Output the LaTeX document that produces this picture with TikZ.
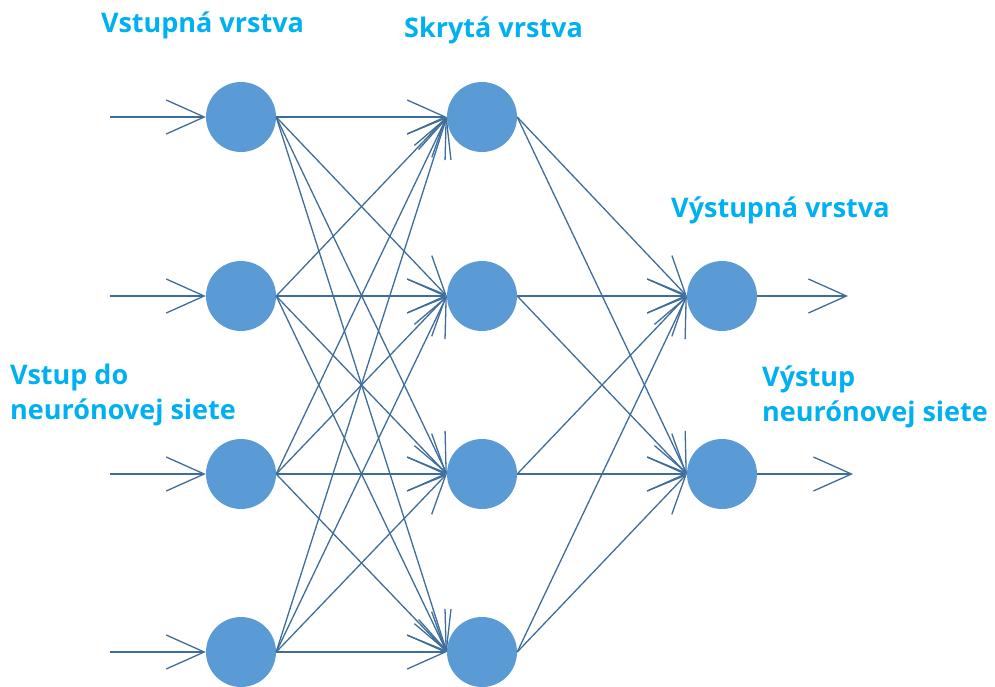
\documentclass[tikz,border=0pt]{standalone}
\usepackage{fontspec}
\setsansfont{Open Sans}
\usepackage{xcolor}
\usetikzlibrary{arrows.meta}
\usetikzlibrary{math}

\definecolor{neuronfill}{HTML}{5B9BD5}
\definecolor{linkcol}{HTML}{3E6D9A}
\definecolor{titlecol}{HTML}{00B0F0}

\begin{document}
\begin{tikzpicture}[x=1pt,y=-1pt,
        neuron/.style={circle,fill=neuronfill,minimum size=70pt,inner sep=0pt},
        link/.style={draw=linkcol,line width=1.3pt,-{Straight Barb[length=38pt,width=34pt,line width=1.3pt]}},
        title/.style={text=titlecol,font=\sffamily\bfseries\fontsize{27}{35}\selectfont,anchor=west,align=left,inner sep=0pt}
    ]
        \useasboundingbox (0,0) rectangle (995,686);
        \tikzmath{ %各层的横坐标
            \colin = 241; \colhid = 482; \colout = 722;
        }
        %输入层和隐藏层
        \foreach \k/\y in {1/117,2/296,3/474,4/652}{
            \node[neuron] (i\k) at (\colin,\y) {};
            \node[neuron] (h\k) at (\colhid,\y) {};
            \coordinate (in\k) at (110,\y);
        }
        %输出层
        \node[neuron] (o1) at (\colout,296) {};
        \node[neuron] (o2) at (\colout,474) {};
        \coordinate (out1) at (848,296);
        \coordinate (out2) at (853,474);
        %连线
        \foreach \k in {1,...,4}{
            \draw[link] (in\k) -- (i\k.west);
            \foreach \j in {1,...,4}{
                \draw[link] (i\k.east) -- (h\j.west);
            }
            \foreach \j in {1,2}{
                \draw[link] (h\k.east) -- (o\j.west);
            }
        }
        \draw[link] (o1.east) -- (out1);
        \draw[link] (o2.east) -- (out2);
        %文字
        \node[title] (tin) at (101,25) {Vstupná vrstva};
        \node[title] (thid) at (404,30) {Skrytá vrstva};
        \node[title] (tout) at (671,210) {Výstupná vrstva};
        \node[title] (tnetin) at (10,395) {Vstup do\\neurónovej siete};
        \node[title] (tnetout) at (762,397) {Výstup\\neurónovej siete};
\end{tikzpicture}
\end{document}
